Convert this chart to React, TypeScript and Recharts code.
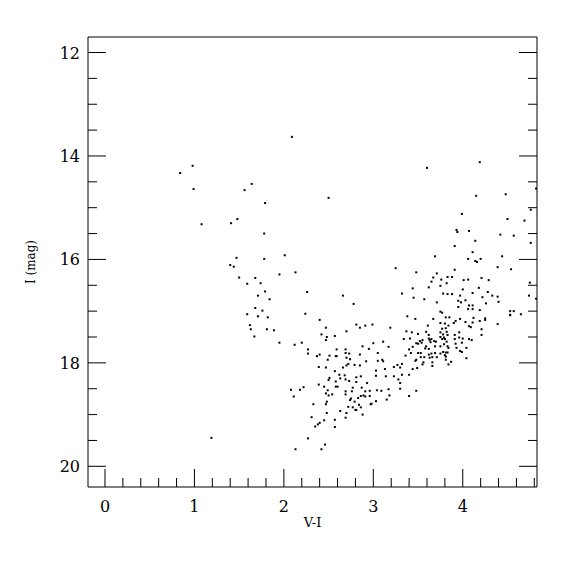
import React from 'react';
import { ScatterChart, Scatter, XAxis, YAxis, Label } from 'recharts';

// V-I colour, I magnitude pairs, grouped by region of the CMD
const brightStars: [number, number][] = [
  [0.84, 14.33], [0.98, 14.19], [0.99, 14.64], [1.08, 15.32], [1.41, 15.3], [1.48, 15.22],
  [2.09, 13.63], [1.64, 14.54], [1.56, 14.66], [2.5, 14.81], [1.79, 14.91], [1.78, 15.5],
  [3.6, 14.23], [4.19, 14.12], [4.15, 14.77], [4.48, 14.74], [4.82, 14.63], [4.76, 15.04],
  [3.99, 15.12], [4.5, 15.22], [4.69, 15.25], [3.93, 15.43], [3.94, 15.47], [4.07, 15.45],
  [4.42, 15.52], [4.57, 15.54],
];

const blueBranch: [number, number][] = [
  [1.47, 15.97], [1.4, 16.11], [1.44, 16.14], [1.5, 16.35], [2.01, 15.92], [1.78, 15.99],
  [1.95, 16.29], [2.13, 16.25], [1.68, 16.36], [1.59, 16.47], [1.74, 16.46], [1.79, 16.62],
  [2.26, 16.63], [1.71, 16.7], [1.84, 16.77], [1.68, 16.94], [1.76, 16.99], [1.59, 17.06],
  [1.71, 17.1], [1.82, 17.12], [2.24, 17.05], [2.4, 17.17], [1.62, 17.27], [1.63, 17.35],
  [1.81, 17.35], [1.89, 17.37], [2.47, 17.32], [2.42, 17.45], [2.57, 17.48], [2.48, 17.5],
  [2.47, 17.56], [1.67, 17.49], [1.95, 17.61], [2.12, 17.65], [2.2, 17.61], [2.27, 17.74],
  [2.59, 17.74], [1.19, 19.45],
];

const faintBlue: [number, number][] = [
  [2.27, 17.82], [2.4, 17.84], [2.37, 17.87], [2.51, 17.86], [2.58, 17.87], [2.59, 17.87],
  [2.49, 17.94], [2.39, 18.08], [2.47, 18.09], [2.57, 18.16], [2.62, 18.23], [2.51, 18.29],
  [2.5, 18.33], [2.58, 18.36], [2.39, 18.42], [2.45, 18.46], [2.58, 18.46], [2.6, 18.46],
  [2.22, 18.47], [2.18, 18.52], [2.08, 18.52], [2.49, 18.53], [2.47, 18.59], [2.5, 18.63],
  [2.54, 18.61], [2.11, 18.65], [2.48, 18.75], [2.47, 18.8], [2.33, 18.8], [2.48, 18.97],
  [2.31, 19.05], [2.45, 19.11], [2.57, 19.1], [2.4, 19.16], [2.38, 19.19], [2.35, 19.23],
  [2.57, 19.24], [2.27, 19.46], [2.46, 19.58], [2.42, 19.67], [2.13, 19.67],
];

const turnoff: [number, number][] = [
  [2.69, 17.81], [2.73, 17.82], [2.7, 17.9], [2.74, 17.93], [2.85, 17.84], [3.05, 17.81],
  [2.92, 17.97], [3.05, 17.96], [3.1, 17.94], [3.11, 17.97], [2.72, 18.02], [2.7, 18.05],
  [2.79, 18.04], [2.85, 18.05], [2.66, 18.09], [3.03, 18.15], [3.03, 18.25], [3.13, 18.12],
  [3.23, 18.08], [3.27, 18.04], [3.32, 18.02], [3.3, 18.09], [3.36, 17.86], [3.42, 17.81],
  [3.47, 17.96], [3.48, 17.94], [3.5, 17.81], [3.53, 17.81], [3.53, 17.89], [3.57, 17.89],
  [3.56, 17.99], [3.55, 18.03], [3.49, 18.1], [3.44, 18.12], [3.62, 17.84], [3.63, 17.9],
  [3.66, 17.89], [3.65, 17.82], [3.69, 17.81], [3.71, 17.89], [3.66, 17.99], [3.66, 18.06],
  [3.4, 18.23], [3.32, 18.23], [3.23, 18.26], [3.14, 18.26], [3.28, 18.32], [3.3, 18.39],
  [3.3, 18.5], [3.17, 18.51], [3.09, 18.54], [3.04, 18.53], [2.96, 18.54], [2.91, 18.55],
  [2.87, 18.48], [2.77, 18.48], [2.63, 18.3], [2.68, 18.24], [2.69, 18.32], [2.73, 18.35],
  [2.81, 18.28], [2.86, 18.26], [2.81, 18.37], [2.93, 18.39], [2.69, 18.55], [2.69, 18.61],
  [2.76, 18.55], [2.86, 18.64], [2.89, 18.63], [2.91, 18.65], [2.83, 18.68], [2.74, 18.72],
  [2.75, 18.69], [2.79, 18.75], [2.96, 18.64], [3.03, 18.74], [2.98, 18.79], [2.97, 18.8],
  [3.15, 18.71], [3.18, 18.63], [3.4, 18.64], [3.48, 18.54], [2.84, 18.81], [2.72, 18.85],
  [2.77, 18.86], [2.8, 18.91], [2.81, 18.91], [2.86, 18.86], [2.63, 18.93], [2.7, 18.97],
  [2.69, 19.06], [2.88, 19.0],
];

const midBranch: [number, number][] = [
  [3.69, 15.94], [3.25, 16.17], [3.48, 16.25], [3.71, 16.27], [3.67, 16.35], [3.65, 16.43],
  [3.62, 16.54], [3.44, 16.56], [3.32, 16.66], [2.66, 16.7], [3.45, 16.74], [3.57, 16.77],
  [3.71, 16.83], [2.78, 16.86], [3.38, 17.1], [3.47, 17.15], [3.67, 17.15], [3.61, 17.28],
  [2.81, 17.26], [2.85, 17.32], [2.91, 17.28], [2.99, 17.26], [3.19, 17.32], [2.7, 17.39],
  [3.37, 17.39], [3.43, 17.41], [3.5, 17.44], [3.59, 17.4], [3.62, 17.46], [3.34, 17.54],
  [3.41, 17.53], [3.48, 17.62], [3.52, 17.58], [3.54, 17.61], [3.55, 17.56], [3.62, 17.53],
  [3.63, 17.56], [3.65, 17.54], [3.64, 17.6], [3.68, 17.58], [3.7, 17.59], [3.69, 17.68],
  [3.59, 17.68], [3.62, 17.73], [3.58, 17.72], [3.0, 17.62], [3.11, 17.59], [3.17, 17.69],
  [2.88, 17.68], [2.95, 17.73], [2.69, 17.74], [3.4, 17.74], [3.44, 17.69], [3.5, 17.63],
];

const redGiants: [number, number][] = [
  [4.76, 15.68], [3.91, 15.74], [4.14, 15.64], [4.11, 15.86], [4.44, 15.94], [4.06, 15.99],
  [4.2, 15.99], [4.14, 16.03], [4.16, 16.05], [4.39, 16.15], [4.54, 16.19], [3.91, 16.2],
  [3.83, 16.34], [3.88, 16.34], [3.76, 16.39], [3.82, 16.46], [4.01, 16.4], [4.06, 16.39],
  [4.21, 16.36], [4.29, 16.4], [4.75, 16.45], [3.75, 16.51], [4.0, 16.58], [4.18, 16.55],
  [4.28, 16.63], [4.11, 16.65], [3.78, 16.66], [3.83, 16.67], [3.88, 16.67], [3.97, 16.7],
  [4.33, 16.7], [4.39, 16.72], [4.74, 16.7], [4.82, 16.76], [4.22, 16.73], [3.95, 16.8],
  [4.03, 16.79], [3.98, 16.83], [4.4, 16.82], [4.26, 16.85], [4.07, 16.89], [4.11, 16.89],
  [3.95, 16.92], [4.06, 16.96], [4.11, 16.96], [4.19, 16.98], [4.53, 17.0], [4.57, 17.0],
  [4.53, 17.07], [4.53, 17.08], [4.65, 17.06], [3.75, 17.01], [3.77, 17.03], [3.81, 17.12],
  [3.85, 17.12], [3.97, 17.15], [4.12, 17.13], [4.25, 17.14], [4.25, 17.17], [4.19, 17.19],
  [3.92, 17.19], [3.9, 17.23], [4.03, 17.21], [4.11, 17.22], [4.39, 17.25], [3.75, 17.23],
  [3.8, 17.24], [3.84, 17.28], [4.07, 17.29], [4.09, 17.31], [3.81, 17.33], [3.77, 17.34],
  [4.21, 17.35], [3.75, 17.41], [3.82, 17.4], [3.96, 17.41], [3.78, 17.45], [3.83, 17.46],
  [3.91, 17.46], [4.21, 17.46], [3.75, 17.5], [3.79, 17.51], [3.77, 17.54], [3.8, 17.54],
  [3.91, 17.54], [3.96, 17.51], [4.0, 17.53], [4.07, 17.54], [4.1, 17.56], [3.82, 17.59],
  [3.92, 17.63], [3.99, 17.61], [3.79, 17.64], [3.75, 17.68], [3.83, 17.68], [3.84, 17.71],
  [3.93, 17.71], [4.04, 17.71], [3.75, 17.82], [3.78, 17.79], [3.81, 17.8], [3.8, 17.85],
  [3.83, 17.8], [3.97, 17.77], [3.99, 17.79], [4.04, 17.91], [3.81, 17.88], [3.81, 17.94],
  [3.87, 17.98], [3.84, 18.03],
];

const xTicks = [0, 0.2, 0.4, 0.6, 0.8, 1, 1.2, 1.4, 1.6, 1.8, 2, 2.2, 2.4, 2.6, 2.8, 3, 3.2, 3.4, 3.6, 3.8, 4, 4.2, 4.4, 4.6, 4.8];
const yTicks = [12, 12.5, 13, 13.5, 14, 14.5, 15, 15.5, 16, 16.5, 17, 17.5, 18, 18.5, 19, 19.5, 20];
const xMajor = [0, 1, 2, 3, 4];
const yMajor = [12, 14, 16, 18, 20];

const stars = [...brightStars, ...blueBranch, ...faintBlue, ...turnoff, ...midBranch, ...redGiants].map(
  ([vi, mag]) => ({ vi, mag })
);

const FONT = '"DejaVu Serif", "Liberation Serif", serif';
const MAJOR_LEN = 18;
const MINOR_LEN = 9;

const isMajor = (v: number, majors: number[]) => majors.some((m) => Math.abs(m - v) < 1e-6);

const makeXTick = (side: 'bottom' | 'top') => (props: any) => {
  const { x, y, payload } = props;
  const major = isMajor(payload.value, xMajor);
  const len = major ? MAJOR_LEN : MINOR_LEN;
  const dir = side === 'bottom' ? -1 : 1;
  return (
    <g>
      <line x1={x} y1={y} x2={x} y2={y + dir * len} stroke="#000" strokeWidth={1} />
      {side === 'bottom' && major && (
        <text x={x} y={y + 25} textAnchor="middle" fontFamily={FONT} fontSize={16} fill="#000">
          {payload.value}
        </text>
      )}
    </g>
  );
};

const makeYTick = (side: 'left' | 'right') => (props: any) => {
  const { x, y, payload } = props;
  const major = isMajor(payload.value, yMajor);
  const len = major ? MAJOR_LEN : MINOR_LEN;
  const dir = side === 'left' ? 1 : -1;
  return (
    <g>
      <line x1={x} y1={y} x2={x + dir * len} y2={y} stroke="#000" strokeWidth={1} />
      {side === 'left' && major && (
        <text x={x - 8} y={y + 6} textAnchor="end" fontFamily={FONT} fontSize={16} fill="#000">
          {payload.value}
        </text>
      )}
    </g>
  );
};

const Dot = (props: any) => {
  const { cx, cy } = props;
  return <rect x={cx - 1} y={cy - 1} width={2} height={2} fill="#000" />;
};

const YTitle = (props: any) => {
  const { viewBox } = props;
  const x = viewBox.x + viewBox.width - 53;
  const y = viewBox.y + viewBox.height / 2;
  return (
    <text x={x} y={y} transform={`rotate(-90, ${x}, ${y})`} textAnchor="middle" fontFamily={FONT} fontSize={12} fill="#000">
      I (mag)
    </text>
  );
};

const XTitle = (props: any) => {
  const { viewBox } = props;
  const x = viewBox.x + viewBox.width / 2;
  const y = viewBox.y + 40;
  return (
    <text x={x} y={y} textAnchor="middle" fontFamily={FONT} fontSize={13} fill="#000">
      V-I
    </text>
  );
};

export default function App() {
  return (
    <div style={{ position: 'absolute', left: 0, top: 0, width: 575, height: 575, background: '#fff' }}>
      <ScatterChart width={575} height={575} margin={{ top: 36, right: 37, bottom: 87, left: 87 }}>
        <XAxis
          xAxisId="b"
          type="number"
          dataKey="vi"
          orientation="bottom"
          domain={[-0.19, 4.83]}
          allowDataOverflow
          ticks={xTicks}
          interval={0}
          height={1}
          tickSize={0}
          tickMargin={0}
          tickLine={false}
          tick={makeXTick('bottom')}
          axisLine={{ stroke: '#000' }}
        >
          <Label content={<XTitle />} />
        </XAxis>
        <XAxis
          xAxisId="t"
          type="number"
          orientation="top"
          domain={[-0.19, 4.83]}
          allowDataOverflow
          ticks={xTicks}
          interval={0}
          height={1}
          tickSize={0}
          tickMargin={0}
          tickLine={false}
          tick={makeXTick('top')}
          axisLine={{ stroke: '#000' }}
        />
        <YAxis
          yAxisId="l"
          type="number"
          dataKey="mag"
          orientation="left"
          reversed
          domain={[11.7, 20.4]}
          allowDataOverflow
          ticks={yTicks}
          interval={0}
          width={1}
          tickSize={0}
          tickMargin={0}
          tickLine={false}
          tick={makeYTick('left')}
          axisLine={{ stroke: '#000' }}
        >
          <Label content={<YTitle />} />
        </YAxis>
        <YAxis
          yAxisId="r"
          type="number"
          orientation="right"
          reversed
          domain={[11.7, 20.4]}
          allowDataOverflow
          ticks={yTicks}
          interval={0}
          width={1}
          tickSize={0}
          tickMargin={0}
          tickLine={false}
          tick={makeYTick('right')}
          axisLine={{ stroke: '#000' }}
        />
        <Scatter xAxisId="b" yAxisId="l" data={stars} shape={<Dot />} isAnimationActive={false} />
      </ScatterChart>
    </div>
  );
}
